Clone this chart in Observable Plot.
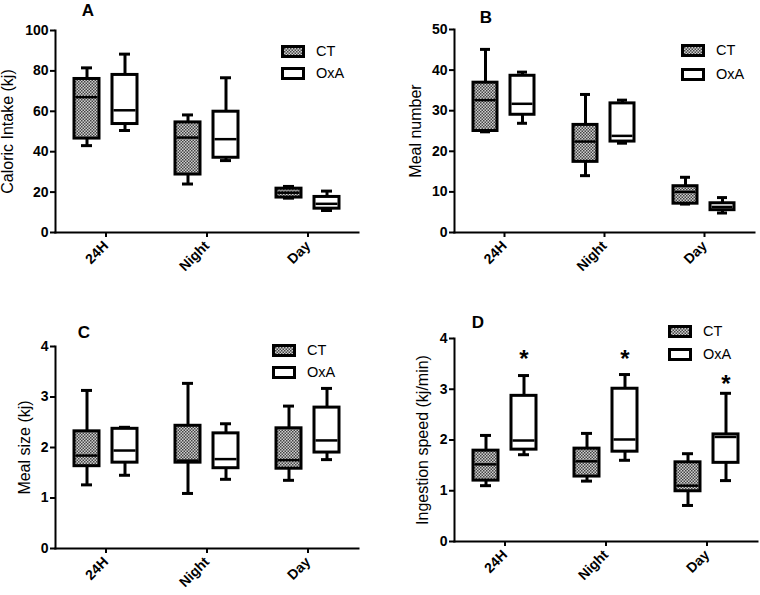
<!DOCTYPE html>
<html><head><meta charset="utf-8">
<script src="https://cdn.jsdelivr.net/npm/d3@7"></script>
<script src="https://cdn.jsdelivr.net/npm/@observablehq/plot@0.6"></script>
<style>
body{margin:0;background:#fff;font-family:"Liberation Sans",Arial,sans-serif;}
#wrap{position:relative;width:760px;height:595px;overflow:hidden;background:#fff;}
.panel{position:absolute;}
.letter{position:absolute;font-weight:bold;font-size:17px;line-height:1;transform:translate(-50%,-50%);}
.leg{position:absolute;font-size:14.5px;line-height:1;display:flex;align-items:center;}
.leg svg{margin-right:11px;}
</style></head>
<body>
<svg width="0" height="0" style="position:absolute">
  <defs>
    <pattern id="ctpat" patternUnits="userSpaceOnUse" width="3" height="3">
      <rect width="3" height="3" fill="#cfcfcf"/>
      <rect width="1.5" height="1.5" fill="#444"/>
      <rect x="1.5" y="1.5" width="1.5" height="1.5" fill="#444"/>
    </pattern>
  </defs>
</svg>
<div id="wrap"></div>
<script>
const categories = ["24H", "Night", "Day"];
const groups = ["CT", "OxA"];
// each entry: [min, Q1, median, Q3, max]
const intakeCT  = [[43, 46.5, 67, 76, 81.5], [24, 28.7, 47, 54.5, 58.2], [17, 17.3, 19.7, 21.7, 22.8]];
const intakeOxA = [[50.5, 53.7, 60.5, 78, 88.3], [35.6, 37, 46.2, 59.8, 76.6], [10.9, 11.8, 14.2, 17.6, 20.5]];
const mealNumCT  = [[24.8, 25, 32.6, 36.9, 45.1], [14, 17.4, 22.4, 26.5, 34], [7, 7.1, 10, 11.4, 13.6]];
const mealNumOxA = [[26.9, 29, 31.7, 38.6, 39.5], [22, 22.4, 23.8, 31.8, 32.6], [4.8, 5.5, 6.3, 7.2, 8.6]];
const mealSizeCT  = [[1.26, 1.63, 1.84, 2.32, 3.13], [1.09, 1.70, 1.74, 2.43, 3.27], [1.35, 1.58, 1.75, 2.38, 2.82]];
const mealSizeOxA = [[1.45, 1.70, 1.94, 2.37, 2.40], [1.37, 1.59, 1.77, 2.28, 2.47], [1.76, 1.90, 2.14, 2.79, 3.17]];
const speedCT  = [[1.10, 1.20, 1.52, 1.79, 2.09], [1.19, 1.28, 1.58, 1.83, 2.13], [0.71, 0.99, 1.10, 1.56, 1.73]];
const speedOxA = [[1.71, 1.81, 1.99, 2.87, 3.27], [1.60, 1.77, 2.01, 3.01, 3.29], [1.20, 1.55, 2.06, 2.11, 2.92]];
const speedStarY = [3.71, 3.71, 3.22]; // asterisks above OxA (significant)

const ticksA = [0, 20, 40, 60, 80, 100];
const ticksB = [0, 10, 20, 30, 40, 50];
const ticksC = [0, 1, 2, 3, 4];
const ticksD = [0, 1, 2, 3, 4];

function rowsOf(ct, oxa) {
  const rows = [];
  categories.forEach((c, i) => {
    [[groups[0], ct[i]], [groups[1], oxa[i]]].forEach(([g, v]) => {
      rows.push({cat: c, grp: g, min: v[0], q1: v[1], med: v[2], q3: v[3], max: v[4]});
    });
  });
  return rows;
}

function makePanel(o) {
  const rows = rowsOf(o.ct, o.oxa);
  const marks = [
    Plot.frame({anchor: "left", facet: "super", strokeWidth: 2}),
    Plot.frame({anchor: "bottom", facet: "super", strokeWidth: 2}),
    Plot.axisY({ticks: o.ticks, tickSize: 5, tickPadding: 2, tickFormat: d => String(d), strokeWidth: 2,
      fontSize: 14, fontWeight: "bold", label: null}),
    Plot.axisY({ticks: [], tickSize: 0, label: o.label, labelAnchor: "center", labelArrow: "none",
      labelOffset: o.labelOffset, fontSize: 16, fontWeight: "normal"}),
    Plot.axisFx({anchor: "bottom", tickSize: 5, tickPadding: 6, tickRotate: -45, strokeWidth: 2,
      fontSize: 14, fontWeight: "bold", label: null}),
    Plot.ruleX(rows, {fx: "cat", x: "grp", y1: "min", y2: "max", stroke: "black", strokeWidth: 3}),
    Plot.barY(rows.filter(d => d.grp === "OxA"), {fx: "cat", x: "grp", y1: "q1", y2: "q3", fill: "white", stroke: "black", strokeWidth: 3}),
    Plot.barY(rows.filter(d => d.grp === "CT"), {fx: "cat", x: "grp", y1: "q1", y2: "q3", fill: "url(#ctpat)", stroke: "black", strokeWidth: 3}),
    Plot.tickY(rows, {fx: "cat", x: "grp", y: "med", stroke: "black", strokeWidth: 2.5, insetLeft: 1.5, insetRight: 1.5}),
    Plot.tickY(rows, {fx: "cat", x: "grp", y: "min", stroke: "black", strokeWidth: 3, insetLeft: 7, insetRight: 7}),
    Plot.tickY(rows, {fx: "cat", x: "grp", y: "max", stroke: "black", strokeWidth: 3, insetLeft: 7, insetRight: 7})
  ];
  if (o.stars) {
    const starRows = categories.map((c, i) => ({cat: c, grp: "OxA", y: o.stars[i]}));
    marks.push(Plot.text(starRows, {fx: "cat", x: "grp", y: "y", text: () => "*", fontSize: 24, fontWeight: "bold", lineAnchor: "middle", dy: 6}));
  }
  const svg = Plot.plot({
    width: o.width, height: o.height,
    marginTop: o.mt, marginBottom: o.mb, marginLeft: o.ml, marginRight: o.mr,
    style: {fontFamily: "'Liberation Sans', Arial, sans-serif", fontSize: "14px", background: "transparent", overflow: "visible", color: "black"},
    fx: {domain: categories, padding: 0, label: null},
    x: {domain: groups, paddingInner: 0.35, paddingOuter: 0.5, axis: null},
    y: {domain: o.domain, axis: null},
    marks
  });
  const div = document.createElement("div");
  div.className = "panel";
  div.style.left = o.left + "px";
  div.style.top = o.top + "px";
  div.appendChild(svg);
  document.getElementById("wrap").appendChild(div);
}

function addLetter(t, x, y) {
  const d = document.createElement("div");
  d.className = "letter"; d.textContent = t;
  d.style.left = x + "px"; d.style.top = y + "px";
  document.getElementById("wrap").appendChild(d);
}
function addLegend(x, y1, y2) {
  const items = [[groups[0], "url(#ctpat)", y1], [groups[1], "white", y2]];
  items.forEach(([name, fill, y]) => {
    const d = document.createElement("div");
    d.className = "leg";
    d.style.left = x + "px"; d.style.top = (y - 7) + "px";
    d.innerHTML = `<svg width="24" height="13"><rect x="1.5" y="1.5" width="21" height="10" fill="${fill}" stroke="black" stroke-width="3"/></svg><span>${name}</span>`;
    document.getElementById("wrap").appendChild(d);
  });
}

makePanel({ct: intakeCT, oxa: intakeOxA, ticks: ticksA, domain: [0, 100], label: "Caloric Intake (kj)", labelOffset: 54,
  left: 0, top: 0, width: 380, height: 290, mt: 30, mb: 58, ml: 55, mr: 22});
makePanel({ct: mealNumCT, oxa: mealNumOxA, ticks: ticksB, domain: [0, 50], label: "Meal number", labelOffset: 45,
  left: 380, top: 0, width: 380, height: 290, mt: 29, mb: 58, ml: 73, mr: 5});
makePanel({ct: mealSizeCT, oxa: mealSizeOxA, ticks: ticksC, domain: [0, 4], label: "Meal size (kj)", labelOffset: 37,
  left: 0, top: 290, width: 380, height: 305, mt: 56, mb: 47, ml: 55, mr: 22});
makePanel({ct: speedCT, oxa: speedOxA, ticks: ticksD, domain: [0, 4], label: "Ingestion speed (kj/min)", labelOffset: 38, stars: speedStarY,
  left: 380, top: 290, width: 380, height: 305, mt: 48, mb: 54, ml: 73, mr: 2});

addLetter("A", 88, 10);
addLetter("B", 486, 17);
addLetter("C", 84, 332);
addLetter("D", 478, 322);
addLegend(281, 51, 73);
addLegend(681, 50, 74);
addLegend(272, 350, 372);
addLegend(668, 331, 354);
</script>
</body></html>
